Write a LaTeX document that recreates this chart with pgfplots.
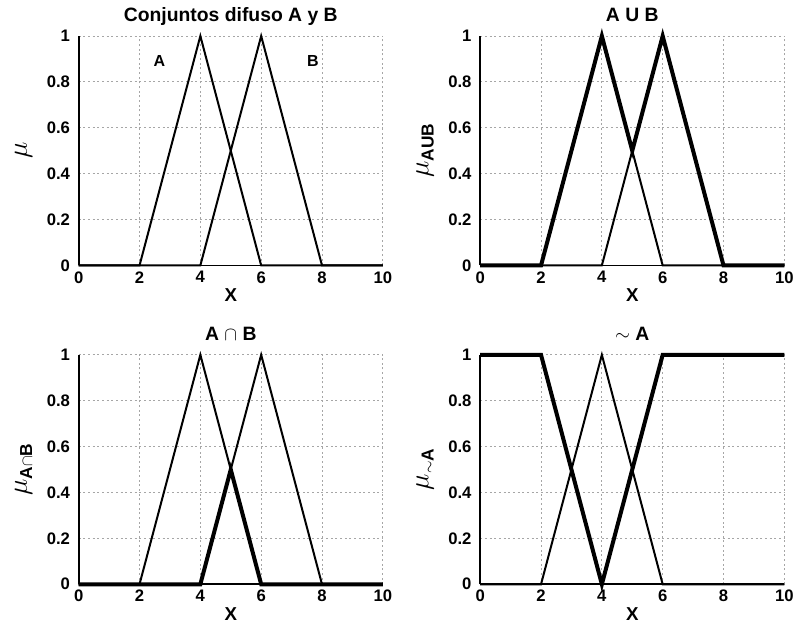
\documentclass[border=0pt]{standalone}
\usepackage{fontspec}
\setmainfont{Liberation Sans}
\usepackage{pgfplots}
\pgfplotsset{compat=1.18}

% etiqueta del eje y: mu con subindice
\newcommand\mulab[1]{{\fontsize{21}{21}\selectfont$\mu$}\raisebox{-0.6ex}{\bfseries\fontsize{13}{13}\selectfont #1}}

\pgfplotsset{
  fz/.style={
    scale only axis,
    width=228pt, height=172pt,
    xmin=0, xmax=10, ymin=0, ymax=1,
    xtick={0,2,...,10}, ytick={0,0.2,...,1},
    axis x line*=bottom, axis y line*=left,
    axis line style={line width=1.4pt, -},
    major tick length=0pt,
    grid=major,
    major grid style={black!35, dotted, line width=0.6pt},
    font=\bfseries\fontsize{12.5}{13}\selectfont,
    /pgf/number format/assume math mode=true,
    yticklabel style={/pgf/number format/fixed, xshift=-3pt},
    xticklabel style={yshift=-1pt},
    xlabel={X}, xlabel style={yshift=3pt, font=\bfseries\fontsize{14}{14}\selectfont},
    ylabel style={yshift=4pt},
    title style={at={(0.5,1)}, anchor=base, yshift=5pt, font=\bfseries\fontsize{14.5}{15}\selectfont},
    clip=false,
  },
  thin/.style={black, line width=1.5pt},
  thick/.style={black, line width=3pt},
}

\begin{document}
\begin{tikzpicture}
\path[use as bounding box] (-59pt,27pt) rectangle (537pt,-451.5pt);
% Conjuntos A y B
\begin{axis}[fz, at={(0pt,0pt)}, anchor=north west,
  title={Conjuntos difuso A y B}, ylabel={\mulab{}}]
  \addplot[thin] coordinates {(0,0) (2,0) (4,1) (6,0) (10,0)};
  \addplot[thin] coordinates {(0,0) (4,0) (6,1) (8,0) (10,0)};
  \node[font=\bfseries\fontsize{12}{13}\selectfont] at (axis cs:2.65,0.89) {A};
  \node[font=\bfseries\fontsize{12}{13}\selectfont] at (axis cs:7.7,0.89) {B};
\end{axis}
% Union
\begin{axis}[fz, at={(301pt,0pt)}, anchor=north west,
  title={A U B}, ylabel={\mulab{AUB}}]
  \addplot[thin] coordinates {(0,0) (2,0) (4,1) (6,0) (10,0)};
  \addplot[thin] coordinates {(0,0) (4,0) (6,1) (8,0) (10,0)};
  \addplot[thick] coordinates {(0,0) (2,0) (4,1) (5,0.5) (6,1) (8,0) (10,0)};
\end{axis}
% Interseccion
\begin{axis}[fz, at={(0pt,-239pt)}, anchor=north west,
  title={A $\cap$ B}, ylabel={\mulab{A$\cap$B}}]
  \addplot[thin] coordinates {(0,0) (2,0) (4,1) (6,0) (10,0)};
  \addplot[thin] coordinates {(0,0) (4,0) (6,1) (8,0) (10,0)};
  \addplot[thick] coordinates {(0,0) (4,0) (5,0.5) (6,0) (10,0)};
\end{axis}
% Complemento
\begin{axis}[fz, at={(301pt,-239pt)}, anchor=north west,
  title={$\sim$ A}, ylabel={\mulab{$\sim$A}}]
  \addplot[thin] coordinates {(0,0) (2,0) (4,1) (6,0) (10,0)};
  \addplot[thick] coordinates {(0,1) (2,1) (4,0) (6,1) (10,1)};
\end{axis}
\end{tikzpicture}
\end{document}
